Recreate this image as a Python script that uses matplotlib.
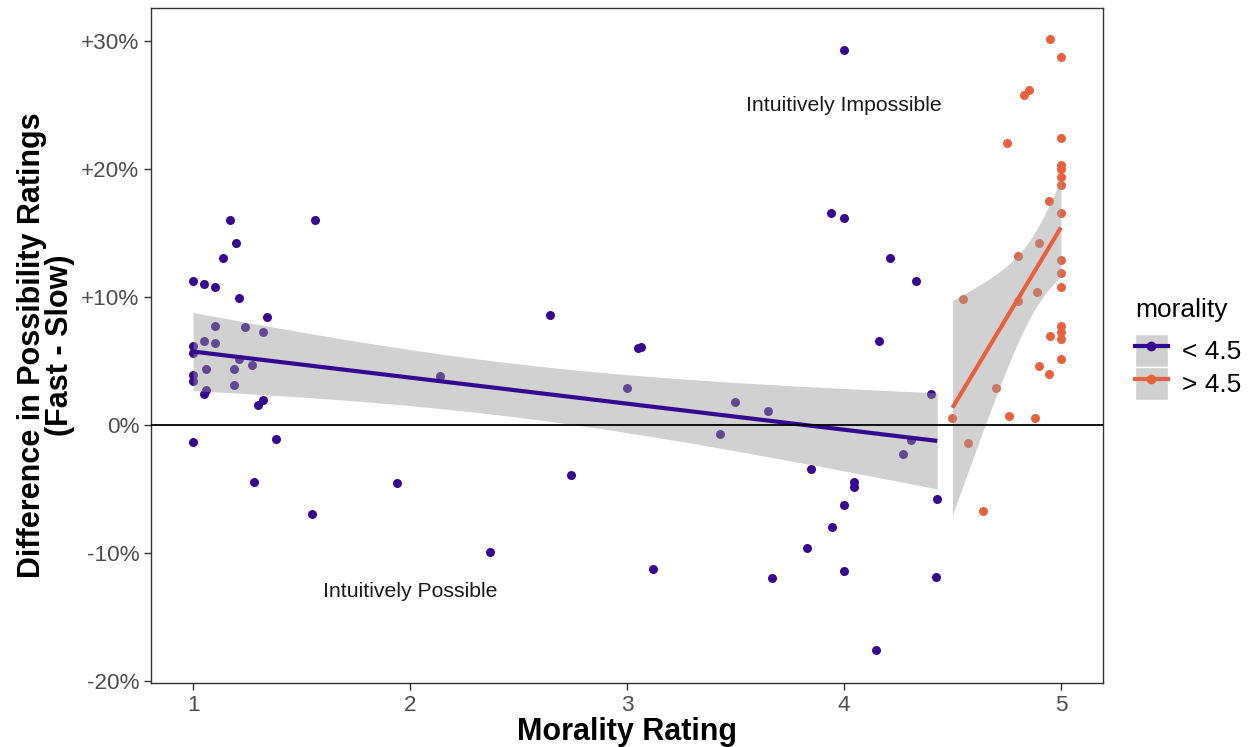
import matplotlib
matplotlib.use("agg")
import matplotlib.pyplot as plt
import numpy as np
from matplotlib.lines import Line2D
from matplotlib.patches import Patch
from matplotlib.legend_handler import HandlerTuple
from matplotlib.ticker import FuncFormatter

plt.rcParams["font.family"] = ["Liberation Sans", "DejaVu Sans"]

PURPLE = "#36078F"
ORANGE = "#E8613F"

# morality < 4.5
low_x = [1.17, 1.56, 1.20, 1.14, 1.00, 1.05, 1.10, 1.21, 1.34, 1.10, 1.24, 1.32,
         1.05, 1.10, 1.00, 1.00, 1.21, 1.27, 1.06, 1.19, 1.00, 1.00, 1.19, 1.06,
         1.05, 1.32, 1.30, 2.14, 1.00, 1.38, 1.28, 1.94, 1.55, 2.37, 2.645, 3.05,
         3.063, 3.00, 3.50, 3.65, 3.43, 2.74, 3.85, 4.00, 3.945, 3.83, 3.12, 3.67,
         4.00, 4.00, 3.94, 4.00, 4.21, 4.33, 4.16, 4.40, 4.31, 4.27, 4.045, 4.045,
         4.43, 4.425, 4.15]
low_y = [16.05, 16.0, 14.2, 13.05, 11.25, 11.0, 10.76, 9.92, 8.41, 7.76, 7.66, 7.29,
         6.59, 6.43, 6.17, 5.65, 5.16, 4.66, 4.35, 4.35, 3.88, 3.41, 3.12, 2.71,
         2.40, 1.95, 1.56, 3.80, -1.33, -1.07, -4.45, -4.53, -6.93, -9.9, 8.59, 5.99,
         6.07, 2.86, 1.82, 1.12, -0.73, -3.93, -3.44, -6.25, -7.94, -9.58, -11.25, -11.93,
         -11.43, 29.3, 16.6, 16.17, 13.05, 11.28, 6.54, 2.40, -1.17, -2.29, -4.43, -4.82,
         -5.8, -11.9, -17.6]

# morality > 4.5
high_x = [4.95, 5.0, 4.83, 4.854, 4.75, 5.0, 5.0, 5.0, 5.0, 5.0, 4.945, 5.0,
          4.90, 4.80, 5.0, 5.0, 4.89, 4.80, 4.55, 5.0, 5.0, 5.0, 5.0, 4.95,
          5.0, 4.90, 4.946, 4.70, 4.50, 4.76, 4.88, 4.57, 4.64]
high_y = [30.16, 28.75, 25.8, 26.17, 22.03, 22.45, 20.3, 20.05, 19.4, 18.75, 17.55, 16.6,
          14.24, 13.2, 12.9, 11.85, 10.42, 9.69, 9.87, 10.8, 7.73, 7.29, 6.72, 6.95,
          5.2, 4.6, 3.96, 2.86, 0.57, 0.70, 0.55, -1.38, -6.7]


def t_quantile(df, z=1.959964):
    # Cornish-Fisher approximation of the 97.5% t quantile
    return z + (z**3 + z) / (4 * df) + (5 * z**5 + 16 * z**3 + 3 * z) / (96 * df**2)


def lm_band(x, y, n_grid=80):
    x = np.asarray(x, float)
    y = np.asarray(y, float)
    b, a = np.polyfit(x, y, 1)
    n = len(x)
    resid = y - (a + b * x)
    s = np.sqrt((resid**2).sum() / (n - 2))
    sxx = ((x - x.mean())**2).sum()
    gx = np.linspace(x.min(), x.max(), n_grid)
    fit = a + b * gx
    se = s * np.sqrt(1.0 / n + (gx - x.mean())**2 / sxx)
    t = t_quantile(n - 2)
    return gx, fit, fit - t * se, fit + t * se


fig = plt.figure(figsize=(12.53, 7.47), dpi=100)
ax = fig.add_axes([151 / 1253, 1 - 683 / 747, (1103 - 151) / 1253, (683 - 8) / 747])

ax.scatter(low_x, low_y, s=42, color=PURPLE, linewidths=0, zorder=2)
ax.scatter(high_x, high_y, s=42, color=ORANGE, linewidths=0, zorder=2)

for xs, ys, col in [(low_x, low_y, PURPLE), (high_x, high_y, ORANGE)]:
    gx, fit, lo, hi = lm_band(xs, ys)
    ax.fill_between(gx, lo, hi, color="#999999", alpha=0.45, linewidth=0, zorder=3)
    ax.plot(gx, fit, color=col, lw=3, zorder=4, solid_capstyle="butt")

ax.axhline(0, color="black", lw=1.3, zorder=5)

ax.text(4.0, 25.0, "Intuitively Impossible", ha="center", va="center", fontsize=15.3, color="#1a1a1a")
ax.text(2.0, -13.0, "Intuitively Possible", ha="center", va="center", fontsize=15.3, color="#1a1a1a")

ax.set_xlim(0.806, 5.194)
ax.set_ylim(-20.16, 32.6)
ax.set_xticks([1, 2, 3, 4, 5])
ax.set_yticks([-20, -10, 0, 10, 20, 30])
ax.yaxis.set_major_formatter(FuncFormatter(lambda v, p: "0%" if v == 0 else "{:+.0f}%".format(v)))
ax.tick_params(axis="both", length=5, width=1, color="#333333", labelcolor="#4d4d4d", labelsize=16.2)
for sp in ax.spines.values():
    sp.set_color("#333333")
    sp.set_linewidth(1)

ax.set_xlabel("Morality Rating", fontsize=22, fontweight="bold", labelpad=1)
ax.set_ylabel("Difference in Possibility Ratings\n(Fast - Slow)", fontsize=22, fontweight="bold",
              linespacing=0.92, labelpad=4)

handles = []
for col in [PURPLE, ORANGE]:
    bg = Patch(facecolor="#d0d0d0", edgecolor="white", linewidth=1)
    ln = Line2D([0], [0], color=col, lw=3, marker="o", markersize=7, markeredgewidth=0)
    handles.append((bg, ln))
leg = fig.legend(handles, ["< 4.5", "> 4.5"], title="morality", loc="center left",
                 bbox_to_anchor=(1135 / 1253, 1 - 349 / 747), frameon=False,
                 handler_map={tuple: HandlerTuple(ndivide=1, pad=0)},
                 handlelength=1.25, handleheight=1.546, handletextpad=0.55,
                 labelspacing=0.0, fontsize=19, title_fontsize=19, borderaxespad=0,
                 borderpad=0)
leg._legend_box.align = "left"
leg._legend_box.sep = 8

fig.savefig("out.png", dpi=100)
